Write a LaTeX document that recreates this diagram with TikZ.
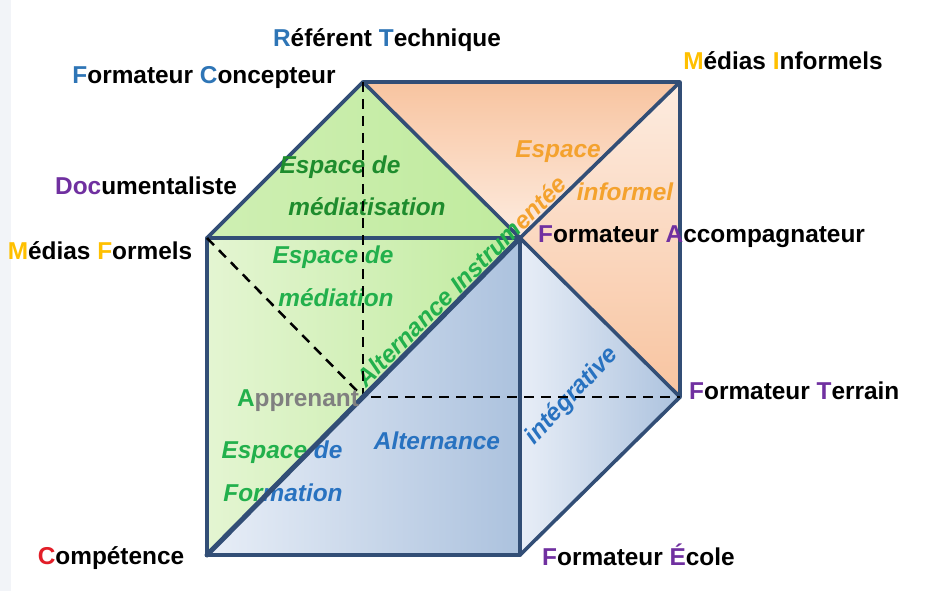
\documentclass[tikz,border=0pt]{standalone}
\usepackage{fontspec}
\setmainfont{Liberation Sans}
\definecolor{edgec}{RGB}{50,78,118}
\definecolor{cblue}{RGB}{46,117,182}
\definecolor{cpurple}{RGB}{112,48,160}
\definecolor{cyellow}{RGB}{255,192,0}
\definecolor{cred}{RGB}{226,30,40}
\definecolor{dgreen}{RGB}{30,140,45}
\definecolor{mgreen}{RGB}{34,176,76}
\definecolor{cgray}{RGB}{128,128,128}
\definecolor{corange}{RGB}{244,162,46}
\definecolor{tblue}{RGB}{40,114,192}
\definecolor{gA}{RGB}{228,245,210}
\definecolor{gB}{RGB}{192,235,158}
\definecolor{oA}{RGB}{248,196,160}
\definecolor{oB}{RGB}{253,236,224}
\definecolor{bA}{RGB}{232,238,247}
\definecolor{bB}{RGB}{172,194,222}
\definecolor{strip}{RGB}{242,244,248}
\begin{document}
\begin{tikzpicture}[x=1pt,y=-1pt,
  every node/.style={font=\fontsize{24.4}{28}\selectfont\bfseries, inner sep=0pt},
  lab/.style={text=black},
  ital/.style={font=\fontsize{24.4}{28}\selectfont\bfseries\itshape},
  edgeline/.style={draw=edgec, line width=3.6pt, line join=round, line cap=round},
  thickdiag/.style={draw=edgec, line width=5pt, line cap=round},
  dashline/.style={draw=black, line width=2.5pt, dash pattern=on 10pt off 7pt}]
\useasboundingbox (0,0) rectangle (932,591);
\fill[white] (0,0) rectangle (932,591);
\fill[strip] (0,0) rectangle (11,591);
% vertices
\coordinate (FTL) at (207,238);
\coordinate (FTR) at (520,238);
\coordinate (FBL) at (207,555);
\coordinate (FBR) at (520,555);
\coordinate (BTL) at (363,82);
\coordinate (BTR) at (680,82);
\coordinate (BBL) at (363,397);
\coordinate (BBR) at (680,397);
% fills
\shade[left color=gB!60!gA, right color=gB] (FTL)--(BTL)--(FTR)--cycle;
\shade[left color=gA, right color=gB] (FTL)--(FTR)--(FBL)--cycle;
\shade[left color=bA, right color=bB] (FTR)--(FBR)--(FBL)--cycle;
\shade[top color=oA, bottom color=oB] (BTL)--(BTR)--(FTR)--cycle;
\shade[top color=oB, bottom color=oA] (FTR)--(BTR)--(BBR)--cycle;
\shade[left color=bA, right color=bB] (FTR)--(BBR)--(FBR)--cycle;
% solid edges
\draw[edgeline] (FTL)--(BTL)--(BTR)--(BBR)--(FBR)--(FBL)--cycle;
\draw[edgeline] (FTL)--(FTR)--(FBR);
\draw[edgeline] (BTL)--(FTR)--(BTR);
\draw[edgeline] (FTR)--(BBR);
% inner texts
\node[ital, text=dgreen] (t1) at (340,167) {Espace de};
\node[ital, text=dgreen] (t2) at (367,207) {médiatisation};
\node[ital, text=mgreen] (t3) at (333,257) {Espace de};
\node[ital, text=mgreen] (t4) at (336,298) {médiation};
\node[ital, text=tblue] (t7) at (437,441) {Alternance};
\node[ital, text=tblue, rotate=47] (t8) at (572,396) {intégrative};
\node[ital, text=corange] (t9) at (558,152) {Espace};
\node[ital, text=corange] (t10) at (625,192) {informel};
\node[ital, text=mgreen] (t5) at (282,452) {Espace \textcolor{tblue}{de}};
\node[ital, text=mgreen] (t6) at (283,493) {For\textcolor{tblue}{mation}};
\node[ital, text=mgreen, rotate=45] (t11) at (461,281) {Alternance Instrum\textcolor{corange}{entée}};
% dashed and diagonal
\draw[dashline] (BTL)--(BBL)--(BBR);
\draw[dashline] (FTL)--(BBL);
\draw[thickdiag] (FBL)--(FTR);
% vertex labels
\node[lab] (l1) at (387,40) {\textcolor{cblue}{R}éférent \textcolor{cblue}{T}echnique};
\node[lab] (l2) at (204,78) {\textcolor{cblue}{F}ormateur \textcolor{cblue}{C}oncepteur};
\node[lab] (l3) at (146,186) {\textcolor{cpurple}{Doc}umentaliste};
\node[lab] (l4) at (100,251) {\textcolor{cyellow}{M}édias \textcolor{cyellow}{F}ormels};
\node[lab] (l5) at (783,61) {\textcolor{cyellow}{M}édias \textcolor{cyellow}{I}nformels};
\node[lab, anchor=west] (l6) at (538,237) {\textcolor{cpurple}{F}ormateur \textcolor{cpurple}{A}ccompagnateur};
\node[lab, anchor=west] (l7) at (689,391) {\textcolor{cpurple}{F}ormateur \textcolor{cpurple}{T}errain};
\node[lab, anchor=west] (l8) at (542,555) {\textcolor{cpurple}{F}ormateur \textcolor{cpurple}{É}cole};
\node[lab] (l9) at (111,558) {\textcolor{cred}{C}ompétence};
\node[text=cgray] (l10) at (298,401) {\textcolor{mgreen}{A}pprenant};
\end{tikzpicture}
\end{document}
